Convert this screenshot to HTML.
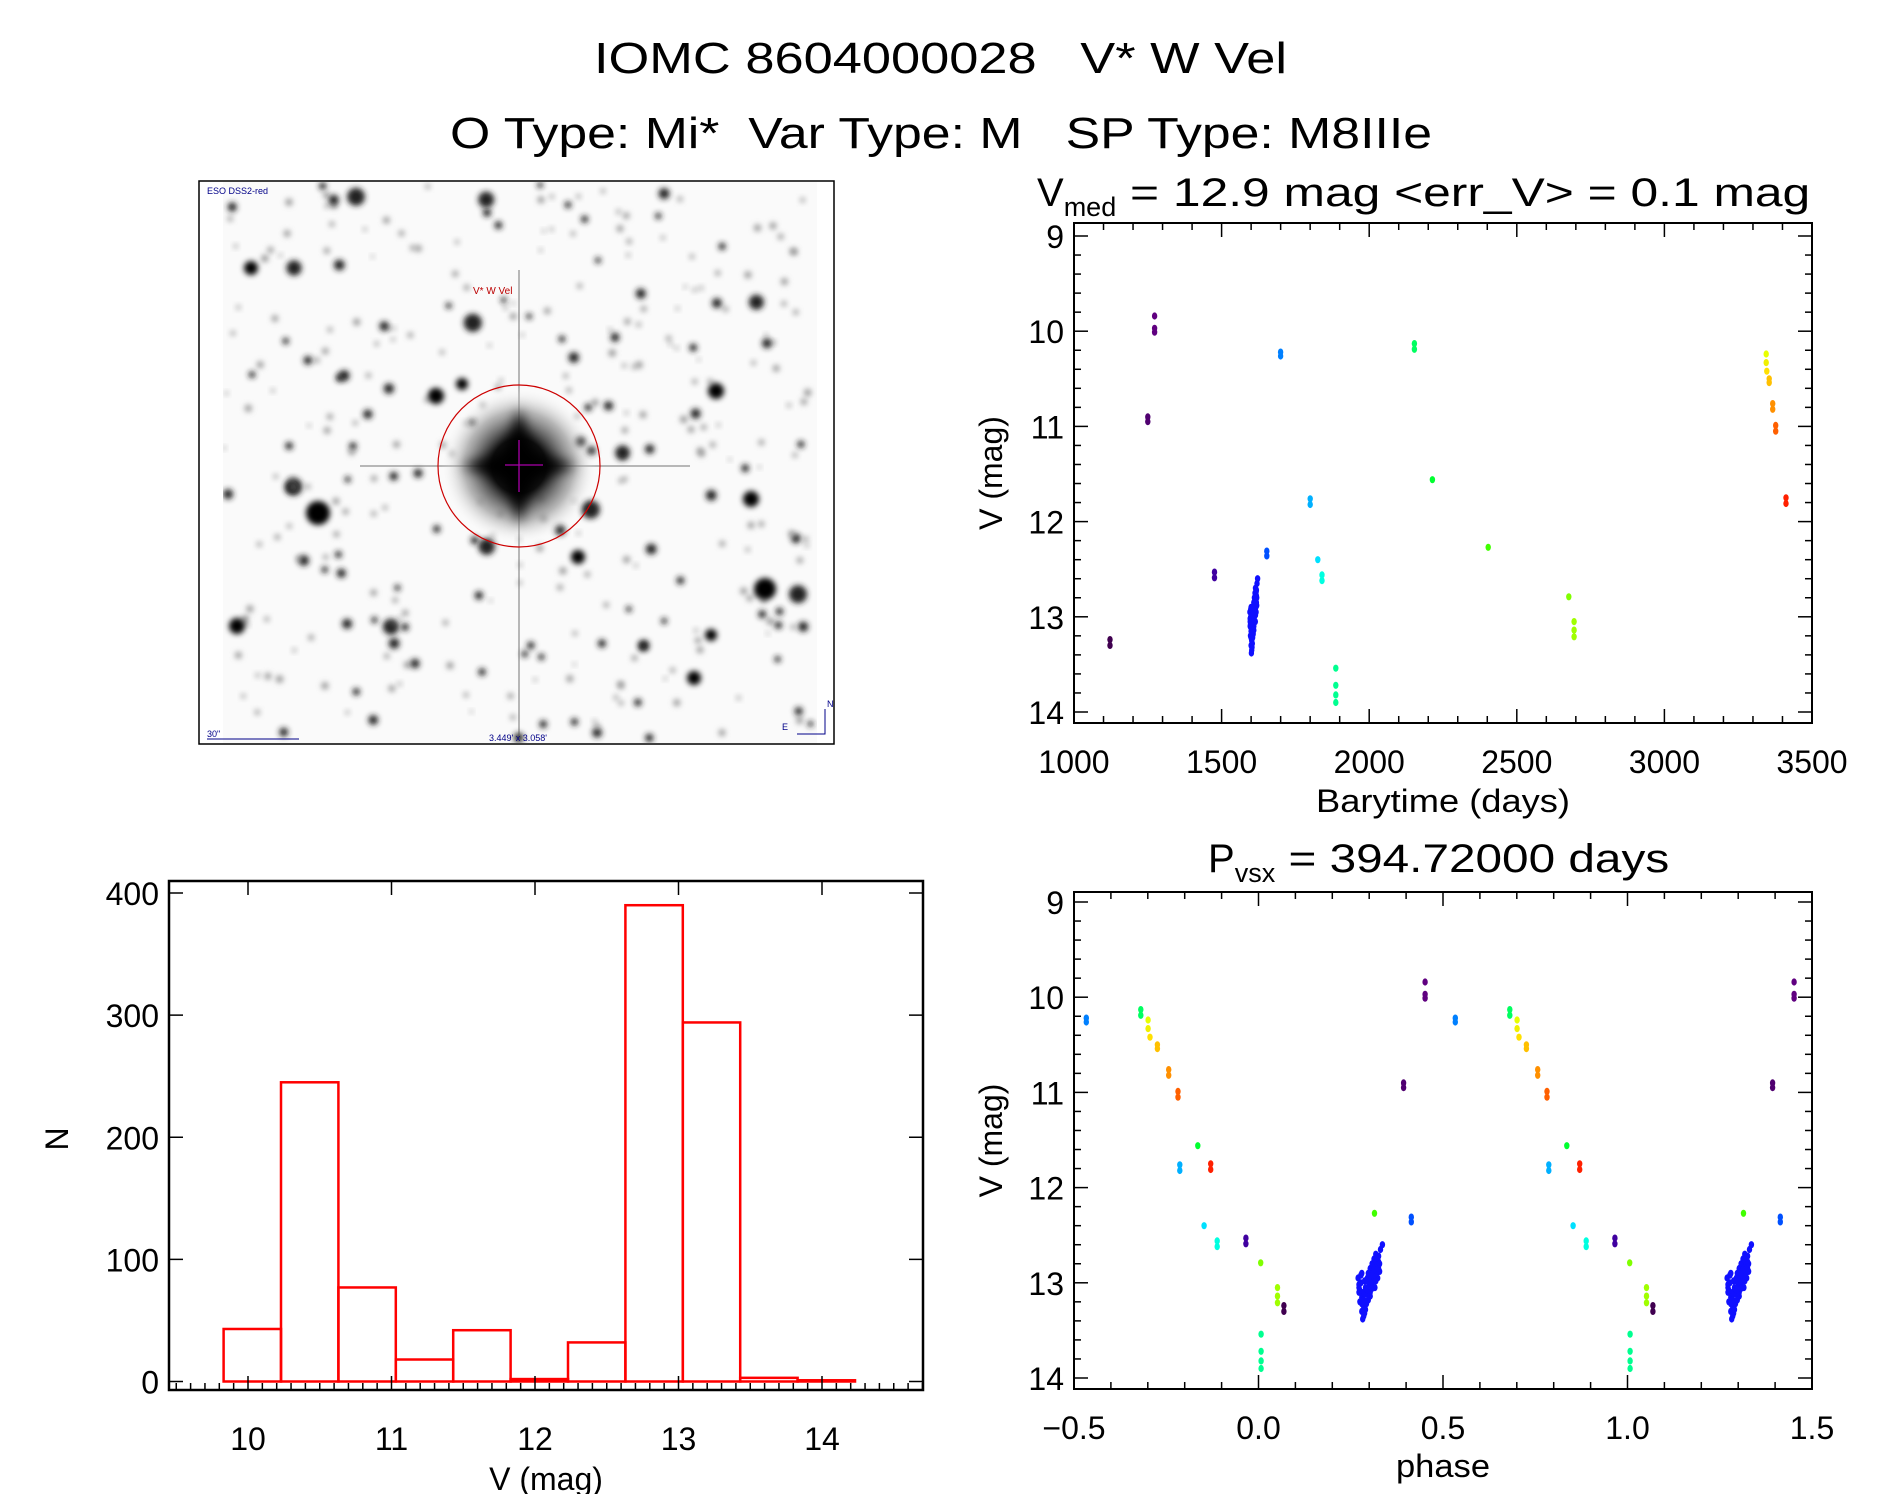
<!DOCTYPE html>
<html><head><meta charset="utf-8"><style>
html,body{margin:0;padding:0;background:#fff;}
svg{display:block;font-family:"Liberation Sans",sans-serif;}
</style></head><body>
<svg id="root" width="1889" height="1494" viewBox="0 0 1889 1494">
<defs>
<filter id="blur2" x="-100%" y="-100%" width="300%" height="300%"><feGaussianBlur stdDeviation="3"/></filter>
<filter id="blur5" x="-100%" y="-100%" width="300%" height="300%"><feGaussianBlur stdDeviation="6"/></filter>
<radialGradient id="bigstar"><stop offset="0" stop-color="#000"/><stop offset="0.35" stop-color="#111"/><stop offset="0.7" stop-color="#888" stop-opacity="0.6"/><stop offset="1" stop-color="#fff" stop-opacity="0"/></radialGradient>
</defs>
<text x="594" y="73" textLength="693" lengthAdjust="spacingAndGlyphs" font-size="44">IOMC 8604000028&#160;&#160;&#160;V* W Vel</text>
<text x="450" y="148" textLength="982" lengthAdjust="spacingAndGlyphs" font-size="44">O Type: Mi*&#160;&#160;Var Type: M&#160;&#160;&#160;SP Type: M8IIIe</text>

<g id="img">
<rect x="199" y="181" width="635" height="563" fill="#fff" stroke="#000" stroke-width="1.5"/>
<rect x="223" y="182" width="594" height="561" fill="#fafafa"/>
<g id="stars" clip-path="url(#imgclip)"></g>
<clipPath id="imgclip"><rect x="223" y="182" width="594" height="561"/></clipPath>
<line x1="360" y1="466" x2="690" y2="466" stroke="#555" stroke-width="2" opacity="0.4"/>
<line x1="519" y1="270" x2="519" y2="740" stroke="#555" stroke-width="2" opacity="0.4"/>
<ellipse cx="519" cy="466" rx="78" ry="78" fill="url(#bigstar)"/>
<path d="M519 408 L538 466 L519 524 L500 466 Z M461 466 L519 448 L577 466 L519 484 Z" fill="#000" filter="url(#blur5)"/>
<circle cx="519" cy="466" r="81" fill="none" stroke="#c00" stroke-width="1.2"/>
<line x1="505" y1="465" x2="543" y2="465" stroke="#a0a" stroke-width="1.3"/>
<line x1="519" y1="440" x2="519" y2="492" stroke="#a0a" stroke-width="1.3"/>
<text x="473" y="294" font-size="10" fill="#b00">V* W Vel</text>
<text x="207" y="194" font-size="9" fill="#008">ESO DSS2-red</text>
<text x="207" y="737" font-size="9" fill="#008">30"</text>
<line x1="207" y1="739" x2="299" y2="739" stroke="#008" stroke-width="1"/>
<text x="489" y="741" font-size="9" fill="#008">3.449' x 3.058'</text>
<text x="782" y="730" font-size="9" fill="#008">E</text>
<text x="827" y="707" font-size="9" fill="#008">N</text>
<polyline points="825,709 825,734 797,734" fill="none" stroke="#008" stroke-width="1"/>
</g>

<g id="lc"></g>
<g id="ph"></g>
<g id="hist"></g>
</svg>
<script>
// Light curve data (Barytime days, V mag, colour group)
const lcTimes = [1122,1122,1273,1273,1273,1250,1250,1476,1476,1653,1653,1700,1700,1800,1800,1826,1840,1840,1887,1887,1887,1887,2153,2153,2214,2403,2676,2694,2694,2694,3345,3345,3347,3355,3355,3367,3367,3377,3377,3412,3412];
const lcMags  = [13.24,13.30,9.84,9.97,10.01,10.90,10.95,12.53,12.59,12.31,12.36,10.22,10.26,11.76,11.82,12.40,12.56,12.62,13.54,13.72,13.82,13.90,10.13,10.19,11.56,12.27,12.79,13.05,13.14,13.21,10.24,10.33,10.42,10.50,10.54,10.76,10.82,10.99,11.05,11.75,11.81];
const lcColors= ["#400050","#400050","#600080","#600080","#600080","#500070","#500070","#4000a0","#4000a0","#0050ff","#0050ff","#0080ff","#0080ff","#00b0ff","#00b0ff","#00e0ff","#00ffe0","#00ffe0","#00ff90","#00ff90","#00ff90","#00ff90","#00ff60","#00ff60","#00ff30","#40ff00","#80ff00","#a0ff00","#a0ff00","#a0ff00","#e8ff00","#f0f000","#ffe000","#ffc000","#ffc000","#ff9000","#ff9000","#ff6000","#ff6000","#ff2000","#ff2000"];
// Dense blue cluster
const clusterTimes = [1596,1597,1597,1598,1599,1600,1600,1601,1602,1602,1603,1604,1604,1605,1606,1606,1607,1608,1609,1609,1610,1611,1611,1612,1613,1614,1614,1615,1616,1616,1617,1618,1618,1619,1620,1622,1597,1599,1601,1603,1605,1607,1609,1611,1614,1616,1618,1598,1600,1602,1604,1606,1609,1611,1613,1615,1617,1619,1600,1602];
const clusterMags  = [12.95,13.10,13.05,13.20,13.00,13.15,13.30,13.38,13.25,13.10,12.98,13.20,13.05,13.12,12.95,13.08,12.90,13.02,12.85,13.10,12.95,12.80,13.00,12.88,12.75,12.95,12.82,12.70,12.90,12.78,12.95,12.85,12.72,12.88,12.65,12.60,13.02,12.92,13.12,13.32,13.22,13.18,13.00,12.92,13.05,12.84,12.78,13.08,13.22,13.35,13.28,12.98,13.14,13.06,12.86,12.98,12.74,12.80,12.90,13.18];
const period = 394.72;
const epoch = 1489.5;
// Histogram
const binEdges = [9.83,10.23,10.63,11.03,11.43,11.83,12.23,12.63,13.03,13.43,13.83,14.23];
const binCounts = [43,245,77,18,42,2,32,390,294,3,1];
const histXTicks = [10,11,12,13,14];
const histYTicks = [0,100,200,300,400];
const lcXTicks = [1000,1500,2000,2500,3000,3500];
const phXTicks = [-0.5,0.0,0.5,1.0,1.5];
const phXLabels = ["\u22120.5","0.0","0.5","1.0","1.5"];
const magTicks = [9,10,11,12,13,14];

const NS="http://www.w3.org/2000/svg";
function mk(tag,attrs,parent){const e=document.createElementNS(NS,tag);for(const k in attrs)e.setAttribute(k,attrs[k]);parent.appendChild(e);return e;}
function lin(d0,d1,r0,r1){return v=>r0+(v-d0)/(d1-d0)*(r1-r0);}

// ---------- star field ----------
(function(){
  const g=document.getElementById('stars');
  let s=12345;function rnd(){s=(s*1103515245+12345)%2147483648;return s/2147483648;}
  for(let i=0;i<340;i++){
    const x=223+rnd()*594,y=182+rnd()*561;const big=rnd();
    const r=big>0.95?6+rnd()*4:(big>0.7?3+rnd()*2.5:1.5+rnd()*2);
    const c=mk('circle',{cx:x.toFixed(1),cy:y.toFixed(1),r:r.toFixed(1),fill:big>0.7?'#222':'#888',filter:'url(#blur2)'},g);
    
    
  }
  const bright=[[318,513,12],[765,589,11],[251,268,7],[436,396,8],[716,391,8],[578,557,7],[751,499,8],[237,626,8],[694,678,7],[711,635,6],[462,384,6]];
  bright.forEach(b=>{const c=mk('circle',{cx:b[0],cy:b[1],r:b[2],fill:'#000',filter:'url(#blur2)'},g);
    
    });
})();

// ---------- mag plot helper ----------
function magPanel(gid,L,R,T,B,xd0,xd1,xTicks,xLabels,xMinor,title,titleX,titleLen,xlabel,xlabLen,y9,y14,titleY,labY,xlabY){
  const g=document.getElementById(gid);
  const X=lin(xd0,xd1,L,R);const Y=lin(9,14,y9,y14);
  mk('rect',{x:L,y:T,width:R-L,height:B-T,fill:'none',stroke:'#000','stroke-width':2},g);
  for(let v=xd0;v<=xd1+1e-9;v+=xMinor){
    const isMaj=xTicks.some(t=>Math.abs(t-v)<xMinor/10);const len=isMaj?14:7;const px=X(v);
    mk('line',{x1:px,y1:B,x2:px,y2:B-len,stroke:'#000','stroke-width':1.5},g);
    mk('line',{x1:px,y1:T,x2:px,y2:T+len,stroke:'#000','stroke-width':1.5},g);
  }
  xTicks.forEach((t,i)=>{const e=mk('text',{x:X(t),y:labY,'text-anchor':'middle','font-size':32},g);e.textContent=xLabels[i];
    
    });
  for(let m=9;m<=14.0001;m+=0.2){
    const isMaj=Math.abs(m-Math.round(m))<0.01;const len=isMaj?14:7;const py=Y(m);
    mk('line',{x1:L,y1:py,x2:L+len,y2:py,stroke:'#000','stroke-width':1.5},g);
    mk('line',{x1:R,y1:py,x2:R-len,y2:py,stroke:'#000','stroke-width':1.5},g);
  }
  magTicks.forEach(t=>{const e=mk('text',{x:L-10,y:Y(t)+12,'text-anchor':'end','font-size':32},g);e.textContent=t;
    
    });
  const yl=mk('text',{x:0,y:0,'text-anchor':'middle','font-size':32,transform:`translate(1002,${(T+B)/2}) rotate(-90)`},g);yl.textContent='V (mag)';
  
  
  const xl=mk('text',{x:(L+R)/2-xlabLen/2,y:xlabY,'font-size':32,textLength:xlabLen,lengthAdjust:'spacingAndGlyphs'},g);xl.textContent=xlabel;
  
  
  const tt=mk('text',{x:titleX,y:titleY,'font-size':40},g);tt.innerHTML=title;
  
  
  return {X,Y,g};
}

const lc=magPanel('lc',1074,1812,223,723,1000,3500,lcXTicks,lcXTicks.map(String),100,
 'V<tspan font-size="27" dy="10">med</tspan><tspan dy="-10" textLength="694" lengthAdjust="spacingAndGlyphs"> = 12.9 mag &lt;err_V&gt; = 0.1 mag</tspan>',1037,768,'Barytime (days)',254,236,712,206,773,812);
const ph=magPanel('ph',1074,1812,892,1389,-0.5,1.5,phXTicks,phXLabels,0.1,
 'P<tspan font-size="27" dy="10">vsx</tspan><tspan dy="-10" textLength="394" lengthAdjust="spacingAndGlyphs"> = 394.72000 days</tspan>',1208,468,'phase',94,902,1378,872,1439,1477);

function dot(p,x,y,c){const e=mk('ellipse',{cx:x.toFixed(1),cy:y.toFixed(1),rx:2.7,ry:3.6,fill:c},p.g);
  
  }
function plotAll(t,m,c){
  dot(lc,lc.X(t),lc.Y(m),c);
  let f=((t-epoch)/period)%1;if(f<0)f+=1;
  [f-1,f,f+1].forEach(v=>{if(v>=-0.5&&v<=1.5)dot(ph,ph.X(v),ph.Y(m),c);});
}
lcTimes.forEach((t,i)=>plotAll(t,lcMags[i],lcColors[i]));
clusterTimes.forEach((t,i)=>plotAll(t,clusterMags[i],'#1010ff'));

// ---------- histogram ----------
(function(){
  const g=document.getElementById('hist');
  const L=169,R=923,T=881,B=1390;
  const X=lin(10,14,248,822);const Y=lin(0,400,1381.5,893);
  binCounts.forEach((n,i)=>{
    const x0=X(binEdges[i]),x1=X(binEdges[i+1]);
    const r=mk('rect',{x:x0,y:Y(n),width:x1-x0,height:Y(0)-Y(n),fill:'none',stroke:'#f00','stroke-width':2.5},g);
    
    
  });
  mk('rect',{x:L,y:T,width:R-L,height:B-T,fill:'none',stroke:'#000','stroke-width':2.5},g);
  for(let v=9.5;v<=14.71;v+=0.1){const px=X(v);if(px<L||px>R)continue;
    const maj=Math.abs(v-Math.round(v))<0.01;
    mk('line',{x1:px,y1:B,x2:px,y2:B-(maj?14:7),stroke:'#000','stroke-width':1.5},g);
    if(maj)mk('line',{x1:px,y1:T,x2:px,y2:T+14,stroke:'#000','stroke-width':1.5},g);}
  histXTicks.forEach(t=>{const e=mk('text',{x:X(t),y:1450,'text-anchor':'middle','font-size':32},g);e.textContent=t;
    
    });
  histYTicks.forEach(t=>{const py=Y(t);
    mk('line',{x1:L,y1:py,x2:L+14,y2:py,stroke:'#000','stroke-width':1.5},g);
    mk('line',{x1:R,y1:py,x2:R-14,y2:py,stroke:'#000','stroke-width':1.5},g);
    const e=mk('text',{x:L-10,y:py+12,'text-anchor':'end','font-size':32},g);e.textContent=t;
    
    });
  const xl=mk('text',{x:(L+R)/2,y:1490,'text-anchor':'middle','font-size':32},g);xl.textContent='V (mag)';
  
  
  const yl=mk('text',{x:0,y:0,'text-anchor':'middle','font-size':32,transform:'translate(68,1139) rotate(-90)'},g);yl.textContent='N';
  
  
})();
</script>
</body></html>
